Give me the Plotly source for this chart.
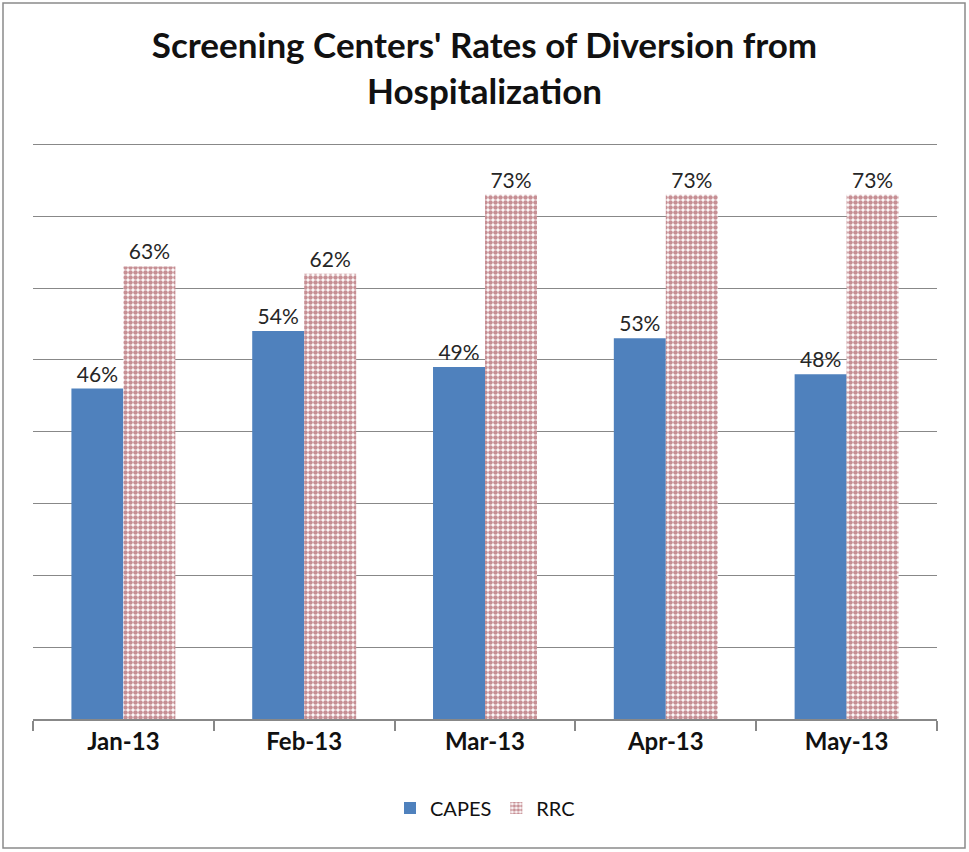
import plotly.graph_objects as go

months = ["Jan-13", "Feb-13", "Mar-13", "Apr-13", "May-13"]
capes = [0.46, 0.54, 0.49, 0.53, 0.48]
rrc = [0.63, 0.62, 0.73, 0.73, 0.73]

W, H = 969, 852
ml, mr, mt, mb = 33, 32, 130, 133
pw, ph = W - ml - mr, H - mt - mb
FONT = "Lato, 'Open Sans', sans-serif"

fig = go.Figure()
fig.add_trace(go.Bar(
    name="CAPES", x=months, y=capes,
    marker=dict(color="#4F81BD", line=dict(width=0)),
    text=[f"{round(v*100)}%" for v in capes], textposition="outside",
    textfont=dict(size=21, color="#262626", family=FONT),
    cliponaxis=False,
))
fig.add_trace(go.Bar(
    name="RRC", x=months, y=rrc,
    marker=dict(color="white", line=dict(width=0),
                pattern=dict(shape=".", fgcolor="#8E1F2A", bgcolor="white", size=5, solidity=0.65)),
    text=[f"{round(v*100)}%" for v in rrc], textposition="outside",
    textfont=dict(size=21, color="#262626", family=FONT),
    cliponaxis=False,
))

fig.update_layout(
    width=W, height=H,
    margin=dict(l=ml, r=mr, t=mt, b=mb),
    paper_bgcolor="white", plot_bgcolor="white",
    barmode="group", bargap=0.425, bargroupgap=0,
    title=dict(text="<b>Screening Centers' Rates of Diversion from<br>Hospitalization</b>",
               x=0.5, xanchor="center", y=1 - 58 / H, yanchor="middle",
               font=dict(size=35, color="#111111", family=FONT)),
    legend=dict(orientation="h", x=0.5, xanchor="center", y=(mt + ph - 808) / ph, yanchor="middle",
                font=dict(size=20, color="#111111", family=FONT),
                itemwidth=30, traceorder="normal"),
    showlegend=True,
)
fig.update_xaxes(showline=True, linecolor="#888888", linewidth=2,
                 ticks="outside", tickson="boundaries", ticklen=10, tickcolor="#888888", tickwidth=2,
                 tickfont=dict(size=24, color="#111111", family=FONT),
                 tickprefix="<b>", ticksuffix="</b>")
fig.update_yaxes(range=[0, 0.82], dtick=0.1, showticklabels=False, showgrid=True,
                 gridcolor="#888888", gridwidth=1.2, zeroline=False, showline=False)

# outer chart border
fig.add_shape(type="rect", xref="paper", yref="paper",
              x0=(3 - ml) / pw, x1=(965 - ml) / pw,
              y0=(mt + ph - 848) / ph, y1=(mt + ph - 3) / ph,
              line=dict(color="#8A8A8A", width=1.5), fillcolor="rgba(0,0,0,0)", layer="below")

fig.write_html("out.html", config={"displayModeBar": False},
               post_script="document.body.style.margin='0px';")
